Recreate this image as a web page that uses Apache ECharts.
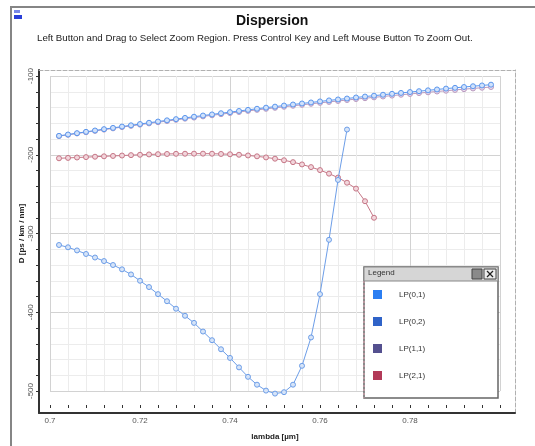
<!DOCTYPE html>
<html lang="en">
<head>
  <meta charset="UTF-8">
  <title>Dispersion</title>
  <script src="https://cdn.jsdelivr.net/npm/echarts@6.0.0/dist/echarts.min.js"></script>
</head>
<body style="margin:0;background:#fff;">
<div id="main" style="width:535px;height:446px;"></div>
<script>
  // wavelength samples [um]
  var lambda = [0.702, 0.704, 0.706, 0.708, 0.710, 0.712, 0.714, 0.716, 0.718, 0.720,
                0.722, 0.724, 0.726, 0.728, 0.730, 0.732, 0.734, 0.736, 0.738, 0.740,
                0.742, 0.744, 0.746, 0.748, 0.750, 0.752, 0.754, 0.756, 0.758, 0.760,
                0.762, 0.764, 0.766, 0.768, 0.770, 0.772, 0.774, 0.776, 0.778, 0.780,
                0.782, 0.784, 0.786, 0.788, 0.790, 0.792, 0.794, 0.796, 0.798];

  // D [ps/km/nm] per mode
  var lp01 = [-176.0, -174.3, -172.6, -170.9, -169.2, -167.5, -165.9, -164.2, -162.6, -161.0,
              -159.4, -157.8, -156.3, -154.8, -153.2, -151.7, -150.2, -148.8, -147.3, -145.9,
              -144.4, -143.0, -141.6, -140.2, -138.9, -137.5, -136.2, -134.9, -133.6, -132.3,
              -131.0, -129.8, -128.6, -127.3, -126.1, -125.0, -123.8, -122.6, -121.5, -120.4,
              -119.3, -118.2, -117.1, -116.0, -115.0, -114.0, -113.0, -112.0, -111.0];
  var lp11 = [-176.3, -174.7, -173.0, -171.4, -169.7, -168.1, -166.5, -164.9, -163.3, -161.8,
              -160.2, -158.7, -157.2, -155.7, -154.2, -152.8, -151.3, -149.9, -148.5, -147.1,
              -145.7, -144.3, -143.0, -141.7, -140.4, -139.1, -137.8, -136.6, -135.3, -134.1,
              -132.9, -131.7, -130.5, -129.3, -128.2, -127.1, -126.0, -124.9, -123.8, -122.8,
              -121.7, -120.7, -119.7, -118.7, -117.7, -116.7, -115.8, -114.9, -114.0];
  var lp21 = [-204.5, -204.0, -203.5, -203.0, -202.5, -202.0, -201.5, -201.0, -200.5, -200.0,
              -199.6, -199.3, -199.0, -198.8, -198.7, -198.6, -198.6, -198.7, -199.0, -199.4,
              -200.0, -200.9, -202.0, -203.4, -205.0, -207.0, -209.4, -212.3, -215.7, -219.5,
              -224.0, -229.0, -235.5, -243.0, -259.0, -280.0];
  var lp02 = [-314.6, -317.5, -321.5, -326.0, -330.5, -335.0, -340.0, -345.5, -352.0, -360.0,
              -368.0, -377.0, -386.0, -395.5, -404.5, -413.5, -424.5, -435.5, -447.0, -458.0,
              -470.0, -482.0, -492.0, -499.5, -503.3, -501.5, -492.0, -468.0, -432.0, -377.0,
              -308.0, -232.0, -168.0];

  var modeNames = ['LP(0,1)', 'LP(0,2)', 'LP(1,1)', 'LP(2,1)'];
  var legendColors = ['#2b7ef2', '#2f63c8', '#54508f', '#b23a58'];

  var font = 'Liberation Sans, Arial, sans-serif';
  var subtitle = 'Left Button and Drag to Select Zoom Region. Press Control Key and Left Mouse Button To Zoom Out.';

  function pts(ys) {
    return ys.map(function (v, i) { return [lambda[i], v]; });
  }

  function mode(name, ys, line, fill, z) {
    return {
      name: name, type: 'line', xAxisIndex: 2, yAxisIndex: 2,
      data: pts(ys), clip: false, z: z,
      symbol: 'circle', symbolSize: 5,
      lineStyle: { color: line, width: 1 },
      itemStyle: { color: fill, borderColor: line, borderWidth: 1 }
    };
  }

  // frame axes: only draw the box lines
  function frameAxis(pos, color, width, type) {
    return {
      gridIndex: 0, type: 'value', min: 0, max: 1, position: pos,
      axisLine: { show: true, onZero: false, lineStyle: { color: color, width: width, type: type } },
      axisTick: { show: false }, axisLabel: { show: false }, splitLine: { show: false }
    };
  }

  var tickStyle = { color: '#333', width: 1 };

  var myChart = echarts.init(document.getElementById('main'));
  myChart.setOption({
    backgroundColor: '#fff',
    animation: false,
    title: [
      { text: 'Dispersion', left: 231, top: 9,
        textStyle: { fontFamily: font, fontSize: 14, fontWeight: 'bold', color: '#111' } },
      { text: subtitle, left: 32, top: 28,
        textStyle: { fontFamily: font, fontSize: 9.7, fontWeight: 'normal', color: '#222' } }
    ],
    grid: [
      { left: 39, top: 70, width: 476, height: 343 },
      { left: 50, top: 76, width: 450, height: 323 }
    ],
    xAxis: [
      frameAxis('bottom', '#333', 2, 'solid'),
      frameAxis('top', '#b0b0b0', 1, [4, 2]),
      {
        gridIndex: 1, type: 'value', min: 0.7, max: 0.8, interval: 0.02,
        position: 'bottom', offset: 14,
        name: 'lambda [µm]', nameLocation: 'middle', nameGap: 28, nameMoveOverlap: false,
        nameTextStyle: { fontFamily: font, fontSize: 8, fontWeight: 'bold', color: '#222' },
        axisLine: { show: false, onZero: false },
        axisTick: { show: true, length: 3, lineStyle: tickStyle },
        minorTick: { show: true, splitNumber: 5, length: 3, lineStyle: tickStyle },
        axisLabel: { margin: 12, fontFamily: font, fontSize: 8, color: '#555', showMaxLabel: false },
        splitLine: { show: true, lineStyle: { color: '#d2d2d2' } },
        minorSplitLine: { show: true, lineStyle: { color: '#ececec' } }
      }
    ],
    yAxis: [
      frameAxis('left', '#333', 2, 'solid'),
      frameAxis('right', '#b0b0b0', 1, [4, 2]),
      {
        gridIndex: 1, type: 'value', min: -500, max: -100, interval: 100,
        position: 'left', offset: 11,
        name: 'D [ps / km / nm]', nameLocation: 'middle', nameGap: 13, nameMoveOverlap: false,
        nameTextStyle: { fontFamily: font, fontSize: 8, fontWeight: 'bold', color: '#222' },
        axisLine: { show: false, onZero: false },
        axisTick: { show: true, length: 3, lineStyle: tickStyle },
        minorTick: { show: true, splitNumber: 5, length: 3, lineStyle: tickStyle },
        axisLabel: { rotate: 90, margin: 4, fontFamily: font, fontSize: 8, color: '#555' },
        splitLine: { show: true, lineStyle: { color: '#d2d2d2' } },
        minorSplitLine: { show: true, lineStyle: { color: '#ececec' } }
      }
    ],
    legend: {
      orient: 'vertical', left: 373, top: 290, padding: 0, z: 20,
      itemGap: 18, itemWidth: 9, itemHeight: 9, icon: 'rect',
      selectedMode: false,
      textStyle: { fontFamily: font, fontSize: 8, color: '#333', padding: [0, 0, 0, 12] },
      data: modeNames.map(function (n, i) {
        return { name: n, itemStyle: { color: legendColors[i], borderWidth: 0 } };
      })
    },
    graphic: [
      // window border and icon
      { type: 'rect', silent: true, shape: { x: 11, y: 7, width: 560, height: 480 },
        style: { fill: 'none', stroke: '#858585', lineWidth: 2 } },
      { type: 'rect', shape: { x: 14, y: 10, width: 6, height: 3 }, style: { fill: '#7888e8' } },
      { type: 'rect', shape: { x: 14, y: 15, width: 8, height: 4 }, style: { fill: '#2a3fd8' } },
      // legend window
      { type: 'rect', z: 10, shape: { x: 364, y: 267, width: 134, height: 131 },
        style: { fill: '#fff', stroke: '#666', lineWidth: 1.5 } },
      { type: 'line', z: 11, shape: { x1: 364, y1: 281, x2: 364, y2: 398 },
        style: { stroke: '#e3a3b3', lineWidth: 1, lineDash: [2, 2] } },
      { type: 'rect', z: 11, shape: { x: 364, y: 267, width: 134, height: 14 },
        style: { fill: '#d6d6d6', stroke: '#888', lineWidth: 1 } },
      { type: 'text', z: 12, x: 368, y: 269,
        style: { text: 'Legend', font: '8px Liberation Sans', fill: '#333' } },
      { type: 'rect', z: 12, shape: { x: 472, y: 269, width: 10, height: 10 },
        style: { fill: '#8a8a8a', stroke: '#444', lineWidth: 1 } },
      { type: 'rect', z: 12, shape: { x: 484, y: 269, width: 12, height: 10 },
        style: { fill: '#eee', stroke: '#444', lineWidth: 1 } },
      { type: 'line', z: 13, shape: { x1: 487, y1: 271, x2: 493, y2: 277 },
        style: { stroke: '#222', lineWidth: 1.3 } },
      { type: 'line', z: 13, shape: { x1: 493, y1: 271, x2: 487, y2: 277 },
        style: { stroke: '#222', lineWidth: 1.3 } }
    ],
    series: [
      mode('LP(1,1)', lp11, '#b99abf', '#ecdcee', 3),
      mode('LP(0,1)', lp01, '#5b97ee', '#d2e2fb', 4),
      mode('LP(2,1)', lp21, '#c67787', '#f2d6dc', 3),
      mode('LP(0,2)', lp02, '#6d9ee8', '#d6e4f8', 4)
    ]
  });
</script>
</body>
</html>
